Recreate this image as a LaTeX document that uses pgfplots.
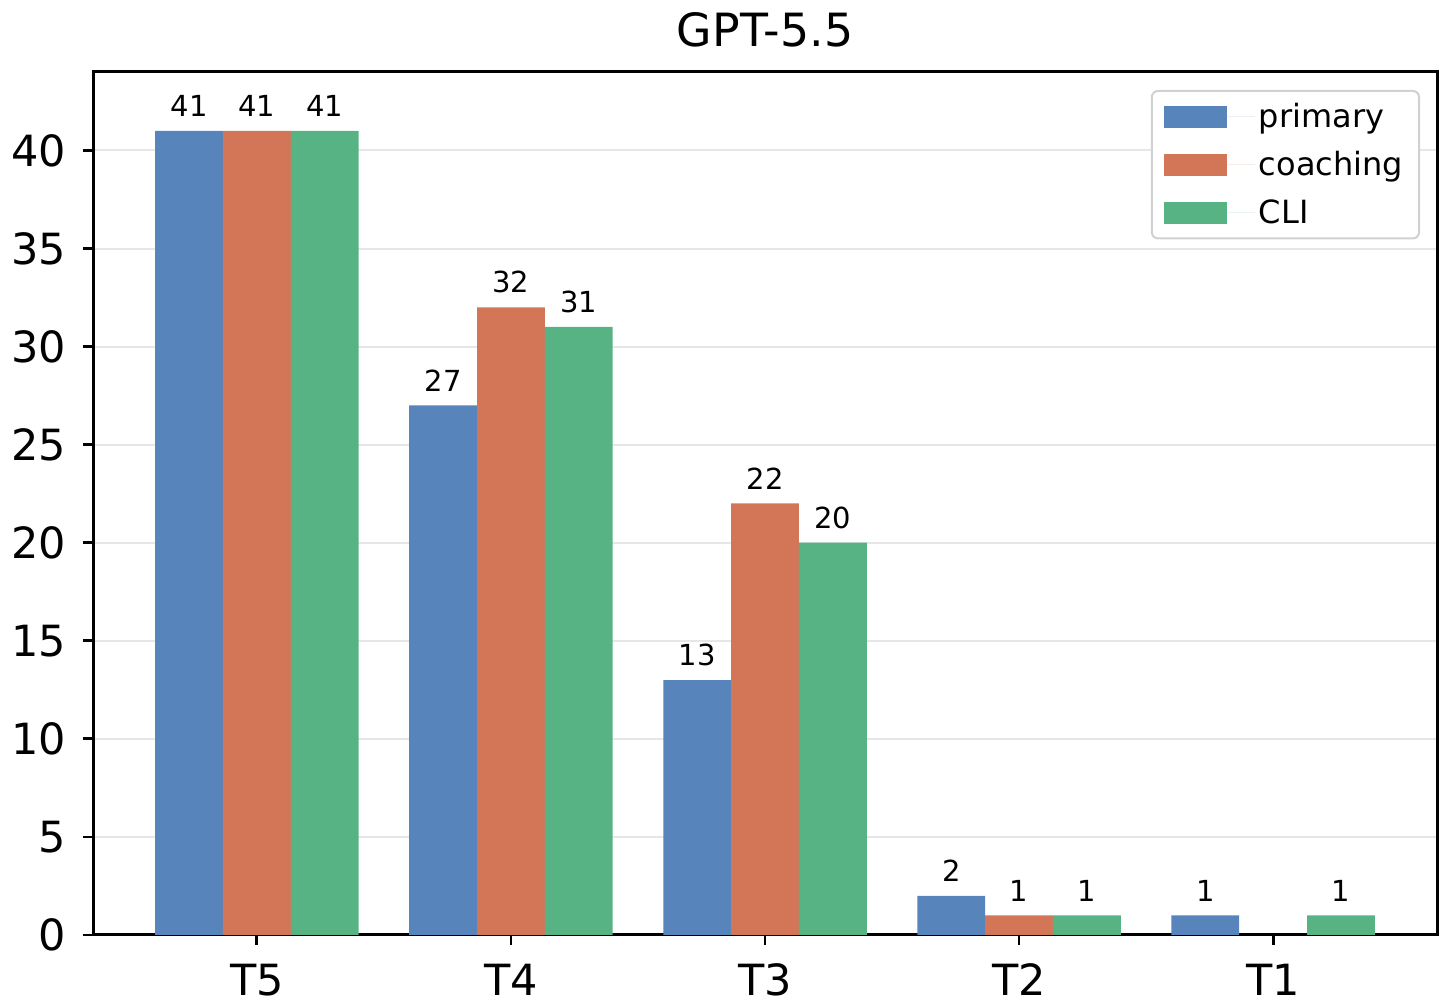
\documentclass[border=0pt]{standalone}
\usepackage{pgfplots}
\pgfplotsset{compat=1.18}
\usepackage{fontspec}
\setmainfont{DejaVu Sans}
\definecolor{cblue}{HTML}{5884BC}
\definecolor{corange}{HTML}{D27657}
\definecolor{cgreen}{HTML}{57B384}
\definecolor{gridc}{HTML}{E6E6E6}
\begin{document}
\begin{tikzpicture}
\useasboundingbox (0pt,0pt) rectangle (728pt,502.5pt);
\begin{axis}[
  at={(46.5pt,35pt)}, anchor=south west,
  scale only axis,
  width=672pt, height=431.5pt,
  xmin=-0.645, xmax=4.645,
  ymin=0, ymax=44,
  xtick={0,1,2,3,4},
  xticklabels={T5,T4,T3,T2,T1},
  ytick={0,5,10,15,20,25,30,35,40},
  /pgf/number format/assume math mode=true,
  tick label style={font=\fontsize{21.5}{23}\selectfont},
  xticklabel style={yshift=-6pt},
  yticklabel style={xshift=-5pt},
  tick align=outside,
  major tick length=5pt,
  tick style={line width=1.4pt, black},
  xtick pos=bottom, ytick pos=left,
  axis line style={line width=1.5pt},
  ymajorgrids, grid style={gridc, line width=1pt},
  title={GPT-5.5},
  title style={font=\fontsize{22.9}{24}\selectfont, yshift=3pt},
  ybar, bar width=0.267,
  nodes near coords,
  every node near coord/.append style={font=\fontsize{14.5}{16}\selectfont, black, yshift=3.5pt},
  legend style={at={(1,1)}, anchor=north east, xshift=-8.5pt, yshift=-9pt,
    draw=black!18, line width=1pt, rounded corners=3pt,
    font=\fontsize{16}{18}\selectfont, row sep=6.5pt, inner xsep=6pt, inner ysep=4pt},
  legend image code/.code={\fill[#1, rounded corners=0pt] (0pt,-5.5pt) rectangle (31.5pt,5.5pt); \path (0pt,0pt) -- (45.5pt,0pt);},
  legend cell align=left,
]
\addplot[fill=cblue, draw=none, bar shift=-0.267] coordinates {(0,41) (1,27) (2,13) (3,2) (4,1)};
\addplot[fill=corange, draw=none, bar shift=0] coordinates {(0,41) (1,32) (2,22) (3,1)};
\addplot[fill=cgreen, draw=none, bar shift=0.267] coordinates {(0,41) (1,31) (2,20) (3,1) (4,1)};
\legend{primary, coaching, CLI}
\end{axis}
\end{tikzpicture}
\end{document}
